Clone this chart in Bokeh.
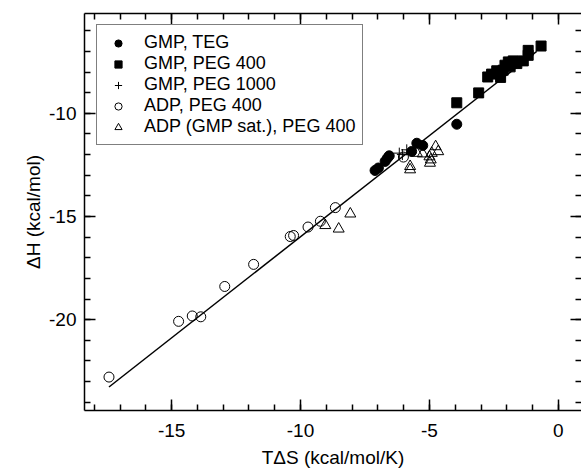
from bokeh.plotting import figure
from bokeh.models import Range1d, LinearAxis, SingleIntervalTicker, CustomJSTickFormatter
from bokeh.embed import file_html
from bokeh.resources import INLINE
import numpy as np

# ---- data (TΔS, ΔH) ----
gmp_teg_x = [-7.11, -6.98, -6.72, -6.63, -6.56, -5.69, -5.49, -5.26, -3.94]
gmp_teg_y = [-12.77, -12.65, -12.33, -12.17, -12.06, -11.85, -11.45, -11.56, -10.53]

gmp_peg400_x = [-3.94, -3.09, -2.74, -2.59, -2.39, -2.24, -2.14, -2.07, -1.94, -1.87,
                -1.75, -1.61, -1.36, -1.17, -1.17, -0.67]
gmp_peg400_y = [-9.49, -9.01, -8.24, -8.10, -7.94, -8.26, -7.91, -7.67, -7.51, -7.75,
                -7.46, -7.59, -7.46, -6.95, -7.19, -6.74]

gmp_peg1000_x = [-6.17, -5.88, -6.05]
gmp_peg1000_y = [-11.93, -11.77, -12.00]

adp_peg400_x = [-17.43, -14.73, -14.20, -13.87, -12.94, -11.82, -10.40, -10.27, -9.71,
                -9.23, -8.65, -6.01]
adp_peg400_y = [-22.78, -20.08, -19.82, -19.86, -18.39, -17.32, -15.97, -15.92, -15.51,
                -15.23, -14.57, -12.12]

adp_sat_x = [-9.04, -8.52, -8.07, -5.75, -5.75, -5.49, -5.26, -4.98, -4.95, -4.91,
             -4.76, -4.66, -5.00]
adp_sat_y = [-15.43, -15.60, -14.87, -12.73, -12.57, -11.93, -11.96, -12.41, -12.25,
             -11.93, -11.61, -11.85, -12.10]

fit_slope = 0.98
fit_intercept = -6.18
fit_x = [-17.43, -0.84]

labels = ["GMP, TEG", "GMP, PEG 400", "GMP, PEG 1000", "ADP, PEG 400",
          "ADP (GMP sat.), PEG 400"]
x_label = "TΔS (kcal/mol/K)"
y_label = "ΔH (kcal/mol)"

FONT = "Liberation Sans"

p = figure(width=581, height=470, output_backend="svg", toolbar_location=None,
           x_range=Range1d(-18.38, 0.898), y_range=Range1d(-24.40, -5.164),
           x_axis_location=None, y_axis_location=None,
           min_border_left=84, min_border_right=0, min_border_top=13,
           min_border_bottom=58)
p.outline_line_color = None
p.xgrid.visible = False
p.ygrid.visible = False
p.background_fill_color = "white"
p.border_fill_color = "white"


def make_axis(show_labels, axis_line=True):
    ax = LinearAxis(ticker=SingleIntervalTicker(interval=5, num_minor_ticks=5))
    ax.major_tick_in = 11
    ax.major_tick_out = 0
    ax.minor_tick_in = 6
    ax.minor_tick_out = 0
    ax.major_tick_line_color = "black"
    ax.minor_tick_line_color = "black"
    ax.major_tick_line_width = 1.5
    ax.minor_tick_line_width = 1.5
    if axis_line:
        ax.axis_line_color = "black"
        ax.axis_line_width = 1.5
    else:
        ax.axis_line_color = None
    if show_labels:
        ax.formatter = CustomJSTickFormatter(code="return tick.toFixed(0);")
        ax.major_label_text_font = FONT
        ax.major_label_text_font_size = "19px"
        ax.major_label_text_color = "black"
        ax.axis_label_text_font = FONT
        ax.axis_label_text_font_size = "19px"
        ax.axis_label_text_font_style = "normal"
        ax.axis_label_text_color = "black"
    else:
        ax.formatter = CustomJSTickFormatter(code="return '';")
        ax.major_label_standoff = 0
    return ax


bottom = make_axis(True)
bottom.axis_label = x_label
bottom.major_label_standoff = 13
bottom.axis_label_standoff = 7
p.add_layout(bottom, "below")

left = make_axis(True)
left.axis_label = y_label
left.major_label_standoff = 8
left.axis_label_standoff = 2
p.add_layout(left, "left")

top = make_axis(False)
p.add_layout(top, "above")

right = make_axis(False, axis_line=False)
p.add_layout(right, "right")

# regression line
fx = np.array(fit_x)
fy = fit_slope * fx + fit_intercept
p.line(fx, fy, line_color="black", line_width=1.5)

p.scatter(gmp_teg_x, gmp_teg_y, marker="circle", size=10, fill_color="black",
          line_color="black", legend_label=labels[0])
p.scatter(gmp_peg400_x, gmp_peg400_y, marker="square", size=10, fill_color="black",
          line_color="black", legend_label=labels[1])
p.scatter(gmp_peg1000_x, gmp_peg1000_y, marker="cross", size=11, line_color="black",
          line_width=1, legend_label=labels[2])
p.scatter(adp_peg400_x, adp_peg400_y, marker="circle", size=10, fill_color=None,
          line_color="black", line_width=1, legend_label=labels[3])
p.scatter(adp_sat_x, adp_sat_y, marker="triangle", size=11, fill_color=None,
          line_color="black", line_width=1, legend_label=labels[4])

lg = p.legend[0]
lg.location = (12, 265)
lg.margin = 0
lg.padding = 7
lg.spacing = 0
lg.glyph_width = 28
lg.glyph_height = 18
lg.label_height = 18
lg.label_standoff = 12
lg.label_text_font = FONT
lg.label_text_font_size = "18px"
lg.label_text_color = "black"
lg.border_line_color = "black"
lg.border_line_width = 1.5
lg.background_fill_color = "white"
lg.background_fill_alpha = 1

open("out.html", "w").write(file_html(p, INLINE))
